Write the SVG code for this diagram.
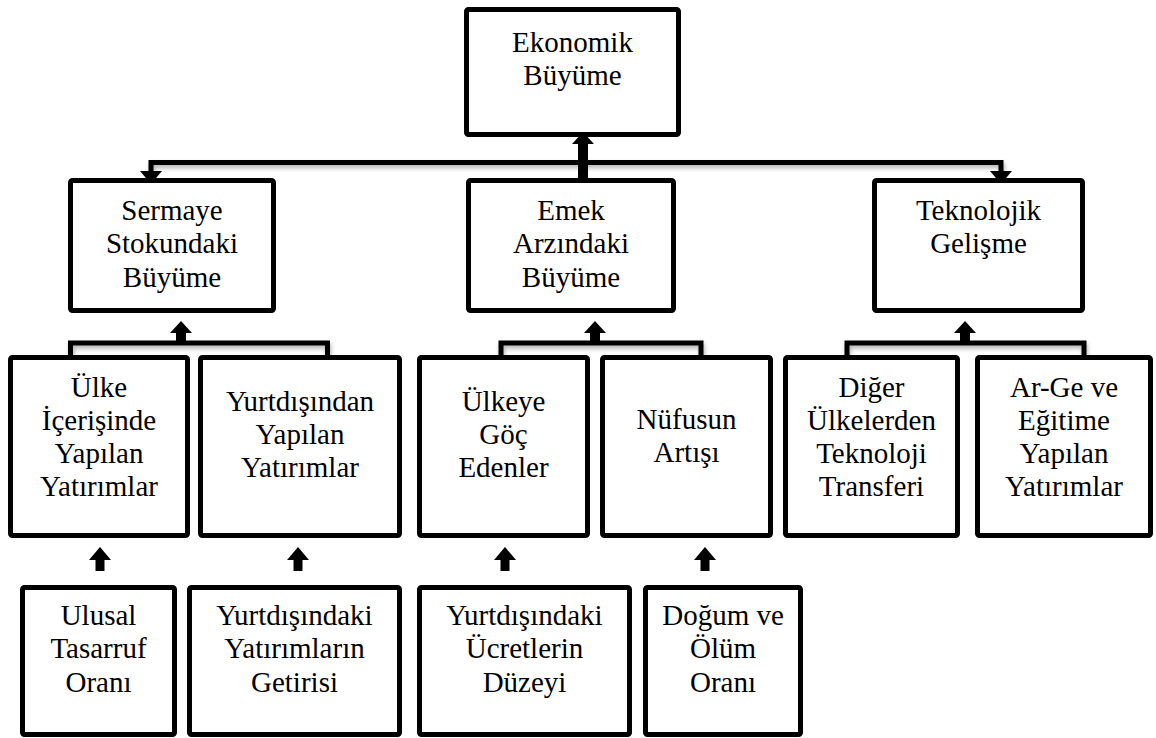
<svg xmlns="http://www.w3.org/2000/svg" width="1156" height="738" viewBox="0 0 1156 738">
  <style>
    .box { fill: #ffffff; stroke: #000000; stroke-width: 5; }
    .lbl { font-size: 29px; fill: #000000; text-anchor: middle; }
    .line { fill: none; stroke: #000000; stroke-width: 5; stroke-linejoin: miter; }
    .stem { fill: none; stroke: #000000; }
    .head { fill: #000000; }
  </style>
  <defs>
    <filter id="soft" x="-5%" y="-50%" width="110%" height="200%">
      <feDropShadow dx="1" dy="3" stdDeviation="2" flood-color="#000000" flood-opacity="0.3"/>
    </filter>
  </defs>

  <!-- connectors -->
  <g id="connectors">
    <!-- top level bus -->
    <g filter="url(#soft)">
      <polyline class="line" points="151,173 151,162.5 1001,162.5 1001,173"/>
    </g>
    <line class="stem" x1="583" y1="180" x2="583" y2="142" stroke-width="10"/>
    <polygon class="head" points="572,144 583,132 594,144"/>
    <polygon class="head" points="140,171 162,171 151,184"/>
    <polygon class="head" points="990,171 1012,171 1001,184"/>

    <!-- group brackets -->
    <g filter="url(#soft)">
      <polyline class="line" points="70.5,356 70.5,343 327.5,343 327.5,356"/>
      <polyline class="line" points="501,356 501,343 701,343 701,356"/>
      <polyline class="line" points="847,356 847,343 1084,343 1084,356"/>
    </g>
    <line class="stem" x1="181" y1="343" x2="181" y2="331" stroke-width="10"/>
    <polygon class="head" points="170,333 181,321 192,333"/>
    <line class="stem" x1="595" y1="343" x2="595" y2="331" stroke-width="10"/>
    <polygon class="head" points="584,333 595,321 606,333"/>
    <line class="stem" x1="965" y1="343" x2="965" y2="331" stroke-width="10"/>
    <polygon class="head" points="954,333 965,321 976,333"/>

    <!-- lower arrows -->
    <g>
      <line class="stem" x1="100" y1="571" x2="100" y2="558" stroke-width="9"/>
      <polygon class="head" points="89,560 100,547 111,560"/>
      <line class="stem" x1="298" y1="571" x2="298" y2="558" stroke-width="9"/>
      <polygon class="head" points="287,560 298,547 309,560"/>
      <line class="stem" x1="505" y1="571" x2="505" y2="558" stroke-width="9"/>
      <polygon class="head" points="494,560 505,547 516,560"/>
      <line class="stem" x1="705" y1="571" x2="705" y2="558" stroke-width="9"/>
      <polygon class="head" points="694,560 705,547 716,560"/>
    </g>
  </g>

  <g font-family="Times New Roman, Liberation Serif, Tinos, Noto Serif, DejaVu Serif, serif">
  <!-- level 1 -->
  <g id="ekonomik-buyume">
    <rect class="box" x="466.5" y="9.5" width="212" height="125" rx="2"/>
    <text class="lbl" x="572.5" y="52">Ekonomik</text>
    <text class="lbl" x="572.5" y="85">Büyüme</text>
  </g>

  <!-- level 2 -->
  <g id="sermaye">
    <rect class="box" x="70.5" y="180.5" width="203" height="130" rx="2"/>
    <text class="lbl" x="172" y="220">Sermaye</text>
    <text class="lbl" x="172" y="253">Stokundaki</text>
    <text class="lbl" x="172" y="287">Büyüme</text>
  </g>
  <g id="emek">
    <rect class="box" x="468.5" y="180.5" width="205" height="130" rx="2"/>
    <text class="lbl" x="571" y="220">Emek</text>
    <text class="lbl" x="571" y="253">Arzındaki</text>
    <text class="lbl" x="571" y="287">Büyüme</text>
  </g>
  <g id="teknolojik">
    <rect class="box" x="874.5" y="180.5" width="208" height="130" rx="2"/>
    <text class="lbl" x="978.5" y="220">Teknolojik</text>
    <text class="lbl" x="978.5" y="253">Gelişme</text>
  </g>

  <!-- level 3 -->
  <g id="ulke-icerisinde">
    <rect class="box" x="10.5" y="357.5" width="177" height="178" rx="2"/>
    <text class="lbl" x="99" y="397">Ülke</text>
    <text class="lbl" x="99" y="430">İçerişinde</text>
    <text class="lbl" x="99" y="463">Yapılan</text>
    <text class="lbl" x="99" y="496">Yatırımlar</text>
  </g>
  <g id="yurtdisindan">
    <rect class="box" x="200.5" y="357.5" width="199" height="178" rx="2"/>
    <text class="lbl" x="300" y="411">Yurtdışından</text>
    <text class="lbl" x="300" y="444">Yapılan</text>
    <text class="lbl" x="300" y="477">Yatırımlar</text>
  </g>
  <g id="ulkeye-goc">
    <rect class="box" x="419.5" y="357.5" width="168" height="178" rx="2"/>
    <text class="lbl" x="503.5" y="411">Ülkeye</text>
    <text class="lbl" x="503.5" y="444">Göç</text>
    <text class="lbl" x="503.5" y="477">Edenler</text>
  </g>
  <g id="nufusun">
    <rect class="box" x="602.5" y="357.5" width="168" height="178" rx="2"/>
    <text class="lbl" x="686.5" y="429">Nüfusun</text>
    <text class="lbl" x="686.5" y="462">Artışı</text>
  </g>
  <g id="diger-ulkeler">
    <rect class="box" x="785.5" y="357.5" width="172" height="178" rx="2"/>
    <text class="lbl" x="871.5" y="397">Diğer</text>
    <text class="lbl" x="871.5" y="430">Ülkelerden</text>
    <text class="lbl" x="871.5" y="463">Teknoloji</text>
    <text class="lbl" x="871.5" y="496">Transferi</text>
  </g>
  <g id="arge">
    <rect class="box" x="977.5" y="357.5" width="173" height="178" rx="2"/>
    <text class="lbl" x="1064" y="397">Ar-Ge ve</text>
    <text class="lbl" x="1064" y="430">Eğitime</text>
    <text class="lbl" x="1064" y="463">Yapılan</text>
    <text class="lbl" x="1064" y="496">Yatırımlar</text>
  </g>

  <!-- level 4 -->
  <g id="ulusal-tasarruf">
    <rect class="box" x="22.5" y="587.5" width="152" height="147" rx="2"/>
    <text class="lbl" x="98.5" y="625">Ulusal</text>
    <text class="lbl" x="98.5" y="658">Tasarruf</text>
    <text class="lbl" x="98.5" y="692">Oranı</text>
  </g>
  <g id="yatirim-getirisi">
    <rect class="box" x="189.5" y="587.5" width="210" height="147" rx="2"/>
    <text class="lbl" x="294.5" y="625">Yurtdışındaki</text>
    <text class="lbl" x="294.5" y="658">Yatırımların</text>
    <text class="lbl" x="294.5" y="692">Getirisi</text>
  </g>
  <g id="ucret-duzeyi">
    <rect class="box" x="419.5" y="587.5" width="210" height="147" rx="2"/>
    <text class="lbl" x="524.5" y="625">Yurtdışındaki</text>
    <text class="lbl" x="524.5" y="658">Ücretlerin</text>
    <text class="lbl" x="524.5" y="692">Düzeyi</text>
  </g>
  <g id="dogum-olum">
    <rect class="box" x="645.5" y="587.5" width="155" height="147" rx="2"/>
    <text class="lbl" x="723" y="625">Doğum ve</text>
    <text class="lbl" x="723" y="658">Ölüm</text>
    <text class="lbl" x="723" y="692">Oranı</text>
  </g>
  </g>
</svg>
